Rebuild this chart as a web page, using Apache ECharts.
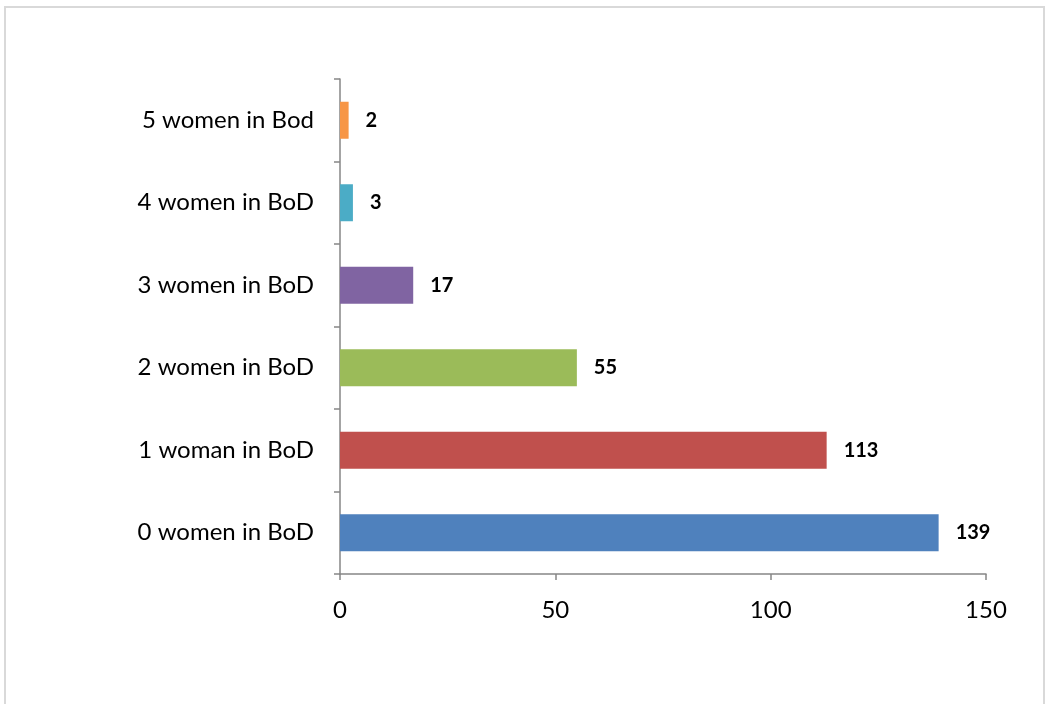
<!DOCTYPE html>
<html>
<head>
<meta charset="utf-8">
<script src="https://cdn.jsdelivr.net/npm/echarts@6/dist/echarts.min.js"></script>
<style>
  html, body { margin: 0; padding: 0; background: #fff; }
  #chart { width: 1046px; height: 704px; }
</style>
</head>
<body>
<div id="chart"></div>
<script>
// bottom to top, as the axis draws them
var categories = ['0 women in BoD', '1 woman in BoD', '2 women in BoD', '3 women in BoD', '4 women in BoD', '5 women in Bod'];
var values = [139, 113, 55, 17, 3, 2];
var barColors = ['#4F81BD', '#C0504D', '#9BBB59', '#8064A2', '#4BACC6', '#F79646'];

var myChart = echarts.init(document.getElementById('chart'));
var font = 'Lato, "Open Sans", sans-serif';

myChart.setOption({
  animation: false,
  graphic: [{
    type: 'rect',
    shape: { x: 5, y: 7, width: 1039, height: 720 },
    style: { fill: 'none', stroke: '#d9d9d9', lineWidth: 2 },
    silent: true
  }],
  grid: { left: 340, right: 60, top: 79, bottom: 130 },
  xAxis: {
    type: 'value',
    min: 0, max: 150, interval: 50,
    axisLine: { show: true, lineStyle: { color: '#868686', width: 1.5 } },
    axisTick: { show: true, length: 6, lineStyle: { color: '#868686', width: 1.5 } },
    splitLine: { show: false },
    axisLabel: { color: '#000', fontSize: 24, fontFamily: font, margin: 24 }
  },
  yAxis: {
    type: 'category',
    data: categories,
    axisLine: { show: true, lineStyle: { color: '#868686', width: 1.5 } },
    axisTick: { show: true, length: 6, alignWithLabel: false, lineStyle: { color: '#868686', width: 1.5 } },
    axisLabel: { color: '#000', fontSize: 24, fontFamily: font, margin: 26 }
  },
  series: [{
    type: 'bar',
    barWidth: 37,
    data: values.map(function (v, i) {
      return { value: v, itemStyle: { color: barColors[i] } };
    }),
    label: {
      show: true,
      position: 'right',
      distance: 17,
      color: '#000',
      fontWeight: 'bold',
      fontSize: 20,
      fontFamily: font
    }
  }]
});
</script>
</body>
</html>
